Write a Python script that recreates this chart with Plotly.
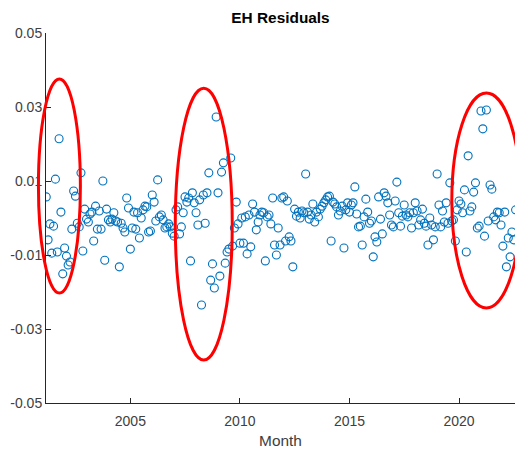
import datetime as dt

import pandas as pd
import plotly.graph_objects as go

# Monthly EH residuals, one list per calendar year (2001 starts in March)
res_2001 = [0.0057, -0.0059, -0.0016, -0.0095, -0.0022, 0.0105, -0.0092, 0.0214, 0.0016, -0.0151]
res_2002 = [-0.0081, -0.0103, -0.0127, -0.0119, -0.0030, 0.0073, 0.0059, -0.0014, -0.0024, 0.0122, -0.0089, 0.0024]
res_2003 = [-0.0003, -0.0011, 0.0011, 0.0016, -0.0062, 0.0032, -0.0030, 0.0019, -0.0030, 0.0100, -0.0114, 0.0024]
res_2004 = [-0.0005, -0.0011, -0.0003, 0.0014, -0.0008, -0.0011, -0.0132, -0.0014, -0.0027, -0.0038, 0.0054, 0.0027]
res_2005 = [-0.0084, -0.0027, 0.0016, -0.0030, 0.0014, -0.0054, 0.0000, 0.0022, 0.0032, 0.0030, -0.0038, -0.0035]
res_2006 = [0.0062, 0.0043, -0.0008, 0.0103, 0.0003, 0.0008, -0.0005, -0.0027, -0.0024, -0.0016, -0.0024, -0.0041]
res_2007 = [-0.0049, 0.0022, 0.0030, -0.0043, -0.0024, 0.0014, 0.0057, 0.0043, 0.0054, -0.0116, 0.0068, 0.0041]
res_2008 = [0.0014, -0.0019, 0.0049, -0.0235, 0.0062, -0.0014, 0.0068, 0.0122, -0.0168, -0.0124, -0.0189, 0.0273]
res_2009 = [0.0068, -0.0157, 0.0124, 0.0149, -0.0122, -0.0092, -0.0084, 0.0162, -0.0076, -0.0027, 0.0043, -0.0016]
res_2010 = [-0.0068, 0.0000, -0.0068, 0.0003, -0.0097, 0.0008, -0.0078, 0.0038, 0.0016, -0.0032, -0.0011, 0.0008]
res_2011 = [0.0016, 0.0014, -0.0116, 0.0003, 0.0008, -0.0016, 0.0054, -0.0073, -0.0100, -0.0027, -0.0073, 0.0054]
res_2012 = [0.0057, -0.0062, 0.0046, -0.0051, -0.0062, -0.0132, 0.0024, 0.0005, 0.0016, 0.0000, 0.0019, 0.0014]
res_2013 = [0.0119, 0.0016, -0.0003, 0.0008, 0.0038, -0.0011, 0.0016, 0.0003, 0.0024, 0.0032, 0.0041, 0.0049]
res_2014 = [0.0057, 0.0059, -0.0062, 0.0043, 0.0038, 0.0030, 0.0008, 0.0019, 0.0032, -0.0081, 0.0022, 0.0041]
res_2015 = [0.0016, 0.0035, 0.0041, 0.0084, 0.0011, -0.0024, -0.0022, -0.0073, 0.0003, 0.0051, 0.0016, -0.0014]
res_2016 = [-0.0008, -0.0105, -0.0051, -0.0065, 0.0057, -0.0003, -0.0043, 0.0068, 0.0059, 0.0041, 0.0008, -0.0019]
res_2017 = [-0.0024, 0.0046, 0.0097, 0.0014, -0.0022, 0.0005, 0.0035, 0.0008, 0.0003, 0.0014, -0.0027, 0.0014]
res_2018 = [0.0041, 0.0019, -0.0019, -0.0005, 0.0024, -0.0014, -0.0022, -0.0073, 0.0000, -0.0019, -0.0059, -0.0024]
res_2019 = [0.0119, 0.0035, -0.0024, 0.0019, -0.0011, 0.0041, -0.0014, 0.0095, -0.0008, -0.0005, -0.0062, 0.0022]
res_2020 = [0.0046, 0.0038, 0.0014, 0.0076, -0.0092, 0.0168, 0.0019, 0.0030, 0.0070, 0.0095, -0.0027, -0.0022]
res_2021 = [0.0289, 0.0241, -0.0049, 0.0292, -0.0008, 0.0089, 0.0078, 0.0003, -0.0005, 0.0016, 0.0014, -0.0019]
res_2022 = [-0.0076, 0.0016, -0.0132, -0.0054, -0.0105, -0.0038, -0.0059, 0.0022]

first_month = "2001-03-01"

y_tick_vals = [-0.05, -0.03, -0.01, 0.01, 0.03, 0.05]
y_tick_text = ["-0.05", "-0.03", "-0.01", "0.01", "0.03", "0.05"]
x_tick_years = [2005, 2010, 2015, 2020]

# Highlighted episodes: (start year, end year, low residual, high residual)
episodes = [
    (2000.805, 2002.72, -0.0203, 0.0376),
    (2007.05, 2009.65, -0.0384, 0.0351),
    (2019.67, 2022.83, -0.0243, 0.0338),
]

residuals = (res_2001 + res_2002 + res_2003 + res_2004 + res_2005 + res_2006
             + res_2007 + res_2008 + res_2009 + res_2010 + res_2011 + res_2012
             + res_2013 + res_2014 + res_2015 + res_2016 + res_2017 + res_2018
             + res_2019 + res_2020 + res_2021 + res_2022)
months = pd.date_range(first_month, periods=len(residuals), freq="MS")

x_start = pd.Timestamp("2001-02-25")
x_end = pd.Timestamp("2022-07-22")
y_lo, y_hi = -0.05, 0.05


def frac_year(ts):
    start = pd.Timestamp(year=ts.year, month=1, day=1)
    nxt = pd.Timestamp(year=ts.year + 1, month=1, day=1)
    return ts.year + (ts - start) / (nxt - start)


fy0, fy1 = frac_year(x_start), frac_year(x_end)

AXIS = "#262626"
FONT = "Liberation Sans, Arial, Helvetica, sans-serif"

fig = go.Figure()
fig.add_trace(go.Scatter(
    x=months,
    y=residuals,
    mode="markers",
    marker=dict(symbol="circle-open", size=8, color="#0072BD",
                line=dict(width=1.1, color="#0072BD")),
    showlegend=False,
    hoverinfo="x+y",
))

for (a, b, lo, hi) in episodes:
    fig.add_shape(
        type="circle", xref="paper", yref="paper",
        x0=(a - fy0) / (fy1 - fy0), x1=(b - fy0) / (fy1 - fy0),
        y0=(lo - y_lo) / (y_hi - y_lo), y1=(hi - y_lo) / (y_hi - y_lo),
        line=dict(color="#FF0000", width=3),
        layer="above",
    )

fig.update_layout(
    width=515, height=450,
    margin=dict(l=46, r=0, t=33, b=47),
    paper_bgcolor="white", plot_bgcolor="white",
    font=dict(family=FONT, size=14, color=AXIS),
    title=dict(text="<b>EH Residuals</b>", x=0.5, xref="paper",
               y=1 - 18 / 450, yref="container", yanchor="middle",
               font=dict(family=FONT, size=15.4, color="#000000")),
    xaxis=dict(
        type="date", range=[x_start, x_end],
        tickvals=[dt.datetime(y, 1, 1) for y in x_tick_years],
        ticktext=[str(y) for y in x_tick_years],
        ticks="inside", ticklen=5, tickcolor=AXIS, tickwidth=1,
        showline=True, linecolor=AXIS, linewidth=1,
        showgrid=False, zeroline=False,
        ticklabelstandoff=5,
        tickfont=dict(size=14, color="#404040"),
        title=dict(text="Month", standoff=7, font=dict(size=15.4, color="#404040")),
    ),
    yaxis=dict(
        range=[y_lo, y_hi],
        tickvals=y_tick_vals, ticktext=y_tick_text,
        ticks="inside", ticklen=5, tickcolor=AXIS, tickwidth=1,
        showline=True, linecolor=AXIS, linewidth=1,
        showgrid=False, zeroline=False,
        tickfont=dict(size=14, color="#404040"),
    ),
)

fig.write_html("out.html")
